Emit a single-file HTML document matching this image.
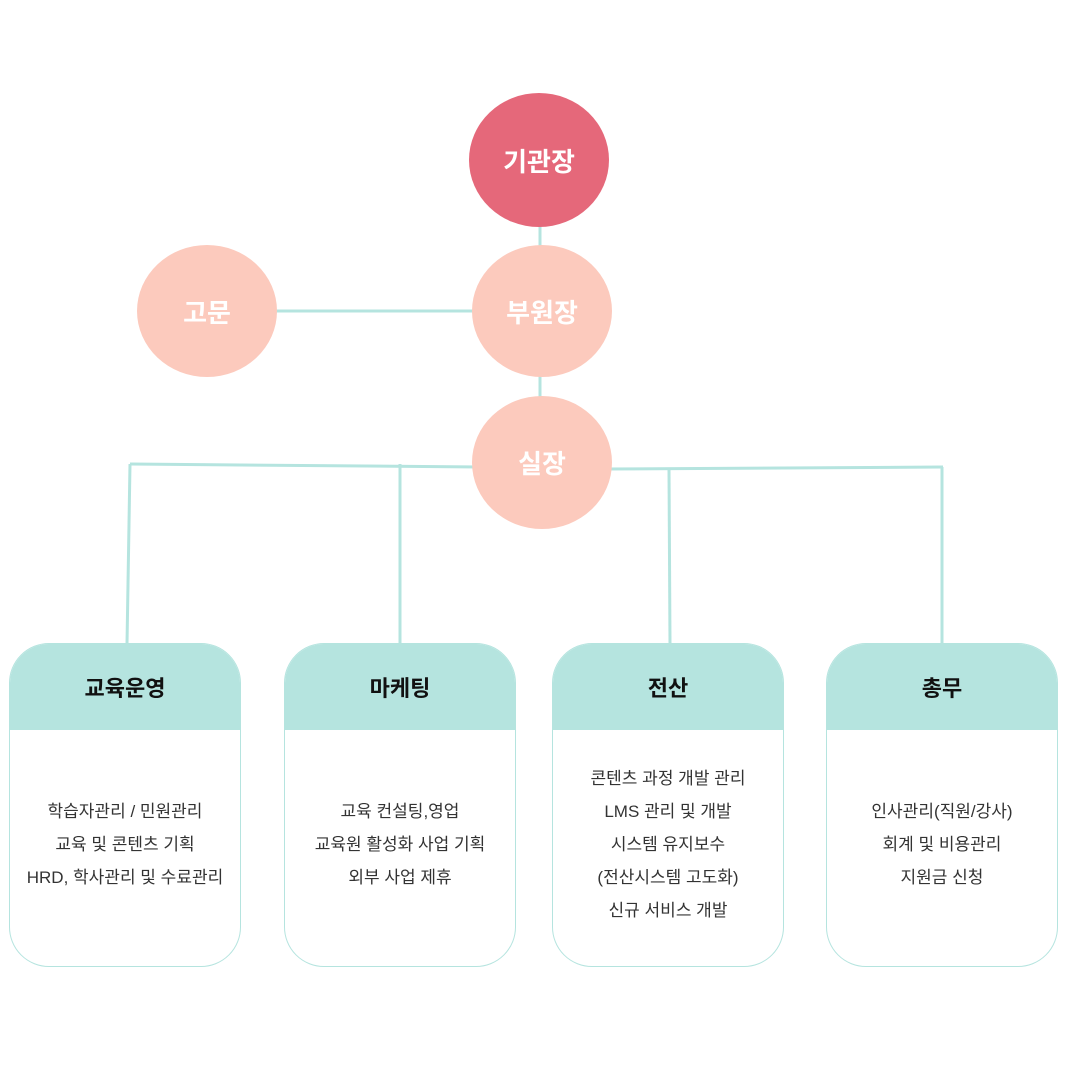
<!DOCTYPE html>
<html><head><meta charset="utf-8"><style>
body{margin:0;width:1080px;height:1080px;background:#fff;position:relative;font-family:"Liberation Sans","Noto Sans CJK KR",sans-serif;overflow:hidden}
.c{position:absolute;border-radius:50%;display:flex;align-items:center;justify-content:center;color:#fff;font-size:26px;font-weight:bold}
.card{position:absolute;top:643px;width:232px;height:324px;border:1px solid #b5e4df;border-radius:40px;overflow:hidden;box-sizing:border-box;background:#fff}
.hd{height:86px;background:#b5e4df;display:flex;align-items:center;justify-content:center;font-size:22px;font-weight:bold;color:#111}
.bd{position:absolute;left:0;right:0;top:78px;bottom:0;display:flex;align-items:center;justify-content:center;text-align:center;font-size:17px;line-height:33px;color:#333}
svg{position:absolute;left:0;top:0}
</style></head><body>
<svg width="1080" height="1080"><g stroke="#b5e4df" stroke-width="3" fill="none">
<line x1="540" y1="220" x2="540" y2="250"/><line x1="540" y1="370" x2="540" y2="400"/>
<line x1="270" y1="311" x2="480" y2="311"/>
<line x1="130" y1="464" x2="480" y2="467"/><line x1="605" y1="469" x2="943" y2="467"/>
<line x1="130" y1="464" x2="127" y2="644"/><line x1="400" y1="464" x2="400" y2="644"/>
<line x1="669" y1="469" x2="670" y2="644"/><line x1="942" y1="467" x2="942" y2="644"/>
</g></svg>
<div class="c" style="left:469px;top:93px;width:140px;height:134px;background:#e5687a">기관장</div>
<div class="c" style="left:472px;top:245px;width:140px;height:132px;background:#fccabd">부원장</div>
<div class="c" style="left:137px;top:245px;width:140px;height:132px;background:#fccabd">고문</div>
<div class="c" style="left:472px;top:396px;width:140px;height:133px;background:#fccabd">실장</div>
<div class="card" style="left:9px"><div class="hd">교육운영</div><div class="bd">학습자관리 / 민원관리<br>교육 및 콘텐츠 기획<br>HRD, 학사관리 및 수료관리</div></div>
<div class="card" style="left:284px"><div class="hd">마케팅</div><div class="bd">교육 컨설팅,영업<br>교육원 활성화 사업 기획<br>외부 사업 제휴</div></div>
<div class="card" style="left:552px"><div class="hd">전산</div><div class="bd">콘텐츠 과정 개발 관리<br>LMS 관리 및 개발<br>시스템 유지보수<br>(전산시스템 고도화)<br>신규 서비스 개발</div></div>
<div class="card" style="left:826px"><div class="hd">총무</div><div class="bd">인사관리(직원/강사)<br>회계 및 비용관리<br>지원금 신청</div></div>
</body></html>
